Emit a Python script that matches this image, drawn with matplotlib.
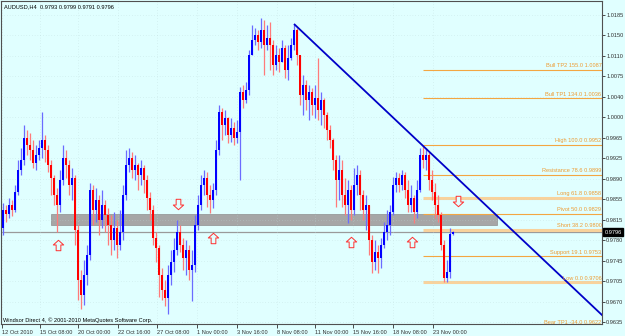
import numpy as np
import matplotlib
matplotlib.use("Agg")
import matplotlib.pyplot as plt
from matplotlib.path import Path
from matplotlib.patches import Rectangle
import matplotlib.transforms as mtrans

plt.rcParams['font.family'] = ['Liberation Sans', 'DejaVu Sans']

symbol = "AUDUSD,H4"
last_ohlc = [0.9793, 0.9799, 0.9791, 0.9796]
footer = "Windsor Direct 4, \u00a9 2001-2010 MetaQuotes Software Corp."

# H4 candles
first_open = 0.9804
closes = [0.9836, 0.9829, 0.9845, 0.9836, 0.9868, 0.9908, 0.9926, 0.9965, 0.9952, 0.9943,
          0.9920, 0.9935, 0.9947, 0.9961, 0.9943, 0.9917, 0.9893, 0.9863, 0.9845, 0.9890,
          0.9929, 0.9917, 0.9881, 0.9893, 0.9800, 0.9711, 0.9684, 0.9720, 0.9756, 0.9872,
          0.9836, 0.9854, 0.9818, 0.9845, 0.9827, 0.9809, 0.9782, 0.9804, 0.9773, 0.9797,
          0.9863, 0.9917, 0.9929, 0.9908, 0.9917, 0.9899, 0.9911, 0.9890, 0.9858, 0.9836,
          0.9786, 0.9768, 0.9720, 0.9693, 0.9679, 0.9720, 0.9743, 0.9764, 0.9797, 0.9773,
          0.9750, 0.9764, 0.9729, 0.9738, 0.9809, 0.9845, 0.9881, 0.9893, 0.9863, 0.9854,
          0.9872, 0.9943, 1.0012, 0.9988, 1.0001, 0.9970, 0.9983, 0.9965, 0.9976, 1.0047,
          1.0033, 1.0051, 1.0114, 1.0140, 1.0149, 1.0137, 1.0158, 1.0131, 1.0144, 1.0131,
          1.0096, 1.0114, 1.0101, 1.0126, 1.0087, 1.0108, 1.0131, 1.0158, 1.0114, 1.0042,
          1.0060, 1.0033, 1.0047, 1.0024, 1.0037, 1.0015, 1.0033, 1.0006, 0.9979, 0.9961,
          0.9926, 0.9890, 0.9908, 0.9863, 0.9845, 0.9872, 0.9836, 0.9881, 0.9899, 0.9863,
          0.9836, 0.9845, 0.9782, 0.9743, 0.9761, 0.9750, 0.9773, 0.9797, 0.9809, 0.9833,
          0.9881, 0.9893, 0.9881, 0.9899, 0.9872, 0.9845, 0.9858, 0.9833, 0.9872, 0.9935,
          0.9926, 0.9935, 0.9890, 0.9868, 0.9845, 0.9827, 0.9773, 0.9714, 0.9725, 0.9793,
          0.9796]
highs = [0.9849, 0.9845, 0.9858, 0.9854, 0.9881, 0.9926, 0.9947, 0.9988, 0.9979, 0.9974,
         0.9961, 0.9952, 0.9961, 1.0012, 0.9970, 0.9952, 0.9926, 0.9899, 0.9875, 0.9908,
         0.9952, 0.9943, 0.9926, 0.9911, 0.9899, 0.9809, 0.9729, 0.9747, 0.9773, 0.9884,
         0.9881, 0.9875, 0.9863, 0.9872, 0.9854, 0.9840, 0.9827, 0.9833, 0.9818, 0.9836,
         0.9881, 0.9943, 0.9947, 0.9940, 0.9935, 0.9920, 0.9926, 0.9917, 0.9899, 0.9868,
         0.9845, 0.9797, 0.9773, 0.9732, 0.9711, 0.9738, 0.9764, 0.9786, 0.9818, 0.9809,
         0.9786, 0.9782, 0.9773, 0.9764, 0.9827, 0.9863, 0.9899, 0.9908, 0.9904, 0.9881,
         0.9884, 0.9961, 1.0024, 1.0019, 1.0015, 1.0002, 1.0001, 0.9994, 0.9997, 1.0056,
         1.0060, 1.0065, 1.0122, 1.0167, 1.0162, 1.0158, 1.0180, 1.0176, 1.0167, 1.0173,
         1.0140, 1.0131, 1.0126, 1.0140, 1.0131, 1.0131, 1.0144, 1.0169, 1.0162, 1.0114,
         1.0078, 1.0069, 1.0060, 1.0054, 1.0060, 1.0108, 1.0047, 1.0037, 1.0012, 0.9988,
         0.9965, 0.9935, 0.9935, 0.9926, 0.9893, 0.9890, 0.9881, 0.9911, 0.9917, 0.9908,
         0.9872, 0.9863, 0.9845, 0.9791, 0.9782, 0.9773, 0.9786, 0.9815, 0.9836, 0.9845,
         0.9895, 0.9904, 0.9902, 0.9908, 0.9904, 0.9890, 0.9881, 0.9863, 0.9890, 0.9947,
         0.9952, 0.9947, 0.9940, 0.9908, 0.9884, 0.9863, 0.9833, 0.9782, 0.9747, 0.9804,
         0.9799]
lows = [0.9791, 0.9815, 0.9822, 0.9825, 0.9833, 0.9863, 0.9899, 0.9917, 0.9935, 0.9926,
        0.9911, 0.9908, 0.9926, 0.9929, 0.9922, 0.9904, 0.9863, 0.9845, 0.9797, 0.9833,
        0.9881, 0.9893, 0.9863, 0.9854, 0.9773, 0.9675, 0.9659, 0.9666, 0.9702, 0.9747,
        0.9809, 0.9815, 0.9791, 0.9804, 0.9797, 0.9773, 0.9756, 0.9764, 0.9750, 0.9764,
        0.9782, 0.9854, 0.9904, 0.9893, 0.9890, 0.9872, 0.9881, 0.9867, 0.9836, 0.9818,
        0.9773, 0.9743, 0.9680, 0.9675, 0.9664, 0.9650, 0.9702, 0.9725, 0.9756, 0.9761,
        0.9729, 0.9720, 0.9711, 0.9673, 0.9725, 0.9800, 0.9836, 0.9863, 0.9841, 0.9831,
        0.9840, 0.9863, 0.9935, 0.9961, 0.9970, 0.9956, 0.9958, 0.9952, 0.9956, 0.9890,
        1.0019, 1.0028, 1.0042, 1.0122, 1.0131, 1.0122, 1.0126, 1.0078, 1.0122, 1.0087,
        1.0078, 1.0087, 1.0083, 1.0105, 1.0072, 1.0069, 1.0105, 1.0122, 1.0096, 1.0024,
        1.0006, 1.0015, 0.9997, 1.0006, 1.0001, 0.9997, 0.9988, 0.9983, 0.9961, 0.9947,
        0.9908, 0.9841, 0.9854, 0.9841, 0.9827, 0.9813, 0.9818, 0.9827, 0.9863, 0.9836,
        0.9818, 0.9800, 0.9756, 0.9723, 0.9729, 0.9723, 0.9732, 0.9768, 0.9782, 0.9791,
        0.9827, 0.9868, 0.9868, 0.9872, 0.9858, 0.9833, 0.9833, 0.9813, 0.9822, 0.9868,
        0.9911, 0.9908, 0.9872, 0.9854, 0.9822, 0.9815, 0.9764, 0.9706, 0.9706, 0.9714,
        0.9791]

date_labels = ["12 Oct 2010", "15 Oct 08:00", "20 Oct 00:00", "22 Oct 16:00", "27 Oct 08:00",
               "1 Nov 00:00", "3 Nov 16:00", "8 Nov 08:00", "11 Nov 00:00", "15 Nov 16:00",
               "18 Nov 08:00", "23 Nov 00:00"]
date_ticks_at = [-0.4, 12.3, 25, 38.3, 51.3, 64.7, 78, 91.3, 104, 116.7, 130, 143.3]
price_labels = ["1.0185", "1.0150", "1.0110", "1.0075", "1.0040", "1.0000", "0.9965", "0.9925",
                "0.9890", "0.9855", "0.9815", "0.9780", "0.9745", "0.9705", "0.9670", "0.9635"]

# fibo levels drawn from the 0.9952 high to the 0.9706 low
fib_names = ["Bull TP2", "Bull TP1", "High", "Resistance", "Long", "Pivot", "Short",
             "Support", "Low", "Bear TP1"]
fib_pcts = ["155.0", "134.0", "100.0", "78.6", "61.8", "50.0", "38.2", "19.1", "0.0", "-34.0"]
fib_prices = [1.0087, 1.0036, 0.9952, 0.9899, 0.9858, 0.9829, 0.9800, 0.9753, 0.9706, 0.9622]
fib_start = 140

zone = (16, 164.7, 0.9809, 0.9829)
trend = [(97, 1.0169), (200, 0.9646)]
up_arrow_x = [18.3, 70, 115.9, 136.2]
up_arrow_y = [0.9773, 0.9786, 0.9779, 0.9779]
down_arrow_x = [58.2, 151.8]
down_arrow_y = [0.9847, 0.9852]

bg = "#E0FFFF"
fs = 4.1

fig = plt.figure(figsize=(6.25, 3.36), dpi=100, facecolor=bg)
ax = fig.add_axes([1 / 625, 12 / 336, 601 / 625, 323 / 336], facecolor=bg)

closes = np.array(closes)
opens = np.concatenate([[first_open], closes[:-1]])
highs = np.maximum(np.array(highs), np.maximum(opens, closes))
lows = np.minimum(np.array(lows), np.minimum(opens, closes))
x = np.arange(len(closes))
up = closes >= opens

# grid
ax.set_xticks(date_ticks_at)
ax.set_yticks(np.linspace(1.0185, 0.9635, len(price_labels)))
ax.grid(True, color="#bcd8d8", linestyle=(0, (1, 4)), linewidth=0.4, zorder=0)

# support zone
ax.add_patch(Rectangle((zone[0], zone[2]), zone[1] - zone[0], zone[3] - zone[2],
                       facecolor="#a6a6a6", edgecolor="#8f8f8f", lw=0.5, zorder=1))

# bid line
ax.axhline(last_ohlc[3], color="#9a9a9a", lw=0.9, zorder=1)

# fibo lines
thick = {"Long", "Short", "Low"}
for name, pct, p in zip(fib_names, fib_pcts, fib_prices):
    if name in thick:
        ax.hlines(p, fib_start, 200, color="#f8d29c", lw=2.2, zorder=1.5)
    else:
        ax.hlines(p, fib_start, 200, color="#f3a642", lw=0.8, zorder=1.5)
    last = name == "Bear TP1"
    ax.text(199.5, 0.96345 if last else p + 0.0003, f"{name} {pct} {p:.4f}", ha="right",
            va="center" if last else "bottom", fontsize=fs, color="#ee9a30", zorder=5,
            clip_on=not last)

# candles
wick_col = np.where(up, "#6b6bff", "#ff7a7a")
ax.vlines(x, lows, highs, colors=wick_col, lw=0.9, zorder=2)
body_h = np.maximum(np.abs(closes - opens), 0.00008)
ax.bar(x, body_h, bottom=np.minimum(opens, closes), width=0.7,
       color=np.where(up, "#0000ff", "#ff0000"), linewidth=0, zorder=3)

# trend line
ax.plot([trend[0][0], trend[1][0]], [trend[0][1], trend[1][1]], color="#0000c8", lw=1.3,
        zorder=4, solid_capstyle="butt")

# arrows
up_path = Path([(0, 1), (-1, 0.1), (-0.45, 0.1), (-0.45, -1), (0.45, -1), (0.45, 0.1),
                (1, 0.1), (0, 1)], closed=True)
down_path = Path([(0, -1), (-1, -0.1), (-0.45, -0.1), (-0.45, 1), (0.45, 1), (0.45, -0.1),
                  (1, -0.1), (0, -1)], closed=True)
ax.plot(up_arrow_x, up_arrow_y, ls="none", marker=up_path, markersize=7.5,
        markerfacecolor=bg, markeredgecolor="#ff3030", markeredgewidth=0.7, zorder=6)
ax.plot(down_arrow_x, down_arrow_y, ls="none", marker=down_path, markersize=7.5,
        markerfacecolor=bg, markeredgecolor="#ff3030", markeredgewidth=0.7, zorder=6)

ax.set_xlim(-0.667, 199.67)
ax.set_ylim(0.96316, 1.02101)

ax.yaxis.tick_right()
ax.set_yticklabels(price_labels)
ax.set_xticklabels(date_labels, ha="left")
ax.tick_params(axis="y", direction="out", length=2, width=0.6, labelsize=fs, pad=1,
               colors="#303030")
ax.tick_params(axis="x", direction="out", length=3, width=0.6, labelsize=fs, pad=1.5,
               colors="#303030")
for s in ax.spines.values():
    s.set_color("#505050")
    s.set_linewidth(0.8)

# current price box
tr = mtrans.blended_transform_factory(ax.transAxes, ax.transData)
ax.text(1.004, last_ohlc[3], f"{last_ohlc[3]:.4f}", transform=tr, ha="left", va="center",
        fontsize=fs, color="white", clip_on=False, zorder=10,
        bbox=dict(boxstyle="square,pad=0.3", facecolor="black", edgecolor="black"))

fig.text(4 / 625, 1 - 7 / 336, symbol + "  " + " ".join(f"{v:.4f}" for v in last_ohlc),
         fontsize=fs, color="black", va="center", ha="left")
fig.text(3 / 625, 1 - 320 / 336, footer, fontsize=fs, color="black", va="center", ha="left")

fig.savefig("out.png", dpi=100, facecolor=bg)
